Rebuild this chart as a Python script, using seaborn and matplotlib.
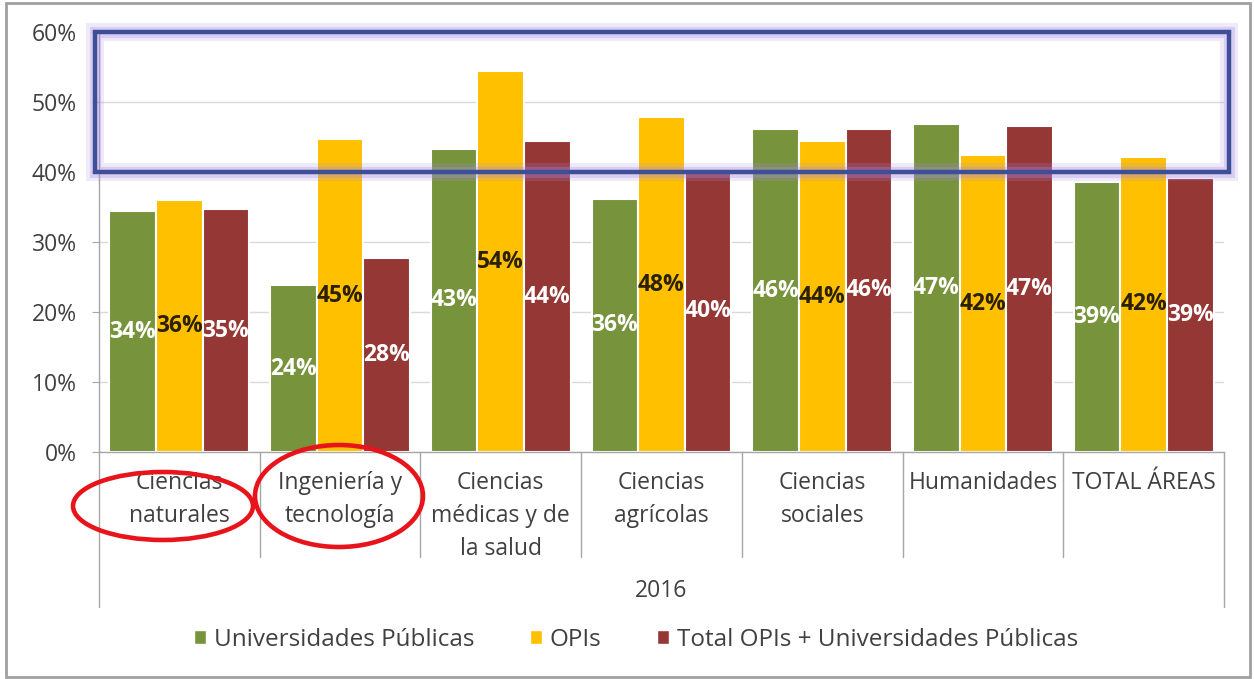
import pandas as pd
import matplotlib.pyplot as plt
import seaborn as sns
from matplotlib.patches import Rectangle, Ellipse, Patch

areas = ["Ciencias\nnaturales", "Ingeniería y\ntecnología", "Ciencias\nmédicas y de\nla salud",
         "Ciencias\nagrícolas", "Ciencias\nsociales", "Humanidades", "TOTAL ÁREAS"]
series = ["Universidades Públicas", "OPIs", "Total OPIs + Universidades Públicas"]
univ = [0.344, 0.238, 0.433, 0.362, 0.461, 0.468, 0.386]
opis = [0.360, 0.447, 0.544, 0.478, 0.444, 0.424, 0.422]
total = [0.347, 0.277, 0.444, 0.403, 0.462, 0.466, 0.391]
yticks = [0, 0.1, 0.2, 0.3, 0.4, 0.5, 0.6]

colors = ["#77933C", "#FFC000", "#953735"]
label_colors = ["white", "#2b2100", "white"]
text_grey = "#404040"
fs = 16.5

df = pd.DataFrame({
    "area": areas * 3,
    "serie": [series[0]] * 7 + [series[1]] * 7 + [series[2]] * 7,
    "valor": univ + opis + total,
})

sns.set_style("white")
plt.rcParams['font.family'] = ['Open Sans', 'DejaVu Sans']

fig = plt.figure(figsize=(12.54, 6.79), dpi=100)
ax = fig.add_axes([99 / 1254, 1 - 452 / 679, 1125 / 1254, 420 / 679])

sns.barplot(data=df, x="area", y="valor", hue="serie", palette=colors, saturation=1,
            width=0.87, edgecolor="white", linewidth=1.5, legend=False, ax=ax)

for cont, tc in zip(ax.containers, label_colors):
    ax.bar_label(cont, labels=[f"{b.get_height() * 100:.0f}%" for b in cont],
                 label_type="center", color=tc, fontsize=fs, fontweight="bold")

ax.set_xlim(-0.5, 6.5)
ax.set_ylim(0, 0.6)
ax.set_yticks(yticks)
ax.set_yticklabels([f"{int(round(t * 100))}%" for t in yticks], fontsize=fs, color=text_grey)
ax.yaxis.grid(True, color="#d9d9d9", lw=1)
ax.set_axisbelow(True)
ax.tick_params(axis="y", length=5, color="#a6a6a6", left=True, pad=11)
ax.set_xticks(range(len(areas)))
ax.set_xticklabels(areas, fontsize=fs, color=text_grey, linespacing=1.5, va="top")
ax.tick_params(axis="x", length=0, pad=14)
ax.set_xlabel("")
ax.set_ylabel("")
for s in ["top", "right"]:
    ax.spines[s].set_visible(False)
for s in ["left", "bottom"]:
    ax.spines[s].set_color("#a6a6a6")
    ax.spines[s].set_linewidth(1)

# category separators of the two-level axis
xt = ax.get_xaxis_transform()
for i in range(len(areas) + 1):
    low = -0.369 if i in (0, len(areas)) else -0.25
    ax.plot([i - 0.5, i - 0.5], [0, low], transform=xt, color="#a6a6a6", lw=1, clip_on=False)
ax.text(0.5, -0.331, "2016", transform=ax.transAxes, ha="center", va="center",
        fontsize=fs, color=text_grey)

# highlight box 40%-60% with a soft glow
yt = ax.get_yaxis_transform()
for lw, a in [(13, 0.18), (8, 0.3)]:
    ax.add_patch(Rectangle((-0.004, 0.40), 1.008, 0.20, transform=yt, fill=False,
                           edgecolor="#a98be8", lw=lw, alpha=a, clip_on=False, zorder=5))
ax.add_patch(Rectangle((-0.004, 0.40), 1.008, 0.20, transform=yt, fill=False,
                       edgecolor="#3d4f96", lw=3.2, clip_on=False, zorder=6))

# red ellipses around first two categories
for cx, cy, w, h in [(163, 506, 180, 68), (339, 496, 168, 102)]:
    fig.patches.append(Ellipse((cx / 1254, 1 - cy / 679), w / 1254, h / 679,
                               transform=fig.transFigure, fill=False,
                               edgecolor="#e8141b", lw=3.3, zorder=10))

handles = [Patch(facecolor=c, label=s) for c, s in zip(colors, series)]
fig.legend(handles=handles, loc="center", bbox_to_anchor=(636 / 1254, 1 - 640 / 679),
           ncol=3, frameon=False, fontsize=17.5, handlelength=0.5, handleheight=0.5,
           handletextpad=0.3, columnspacing=2.3, labelcolor=text_grey)

# outer frame
fig.patches.append(Rectangle((6 / 1254, 2 / 679), 1244 / 1254, 674 / 679,
                             transform=fig.transFigure, fill=False,
                             edgecolor="#a0a0a0", lw=2))

fig.savefig("out.png", dpi=100)
